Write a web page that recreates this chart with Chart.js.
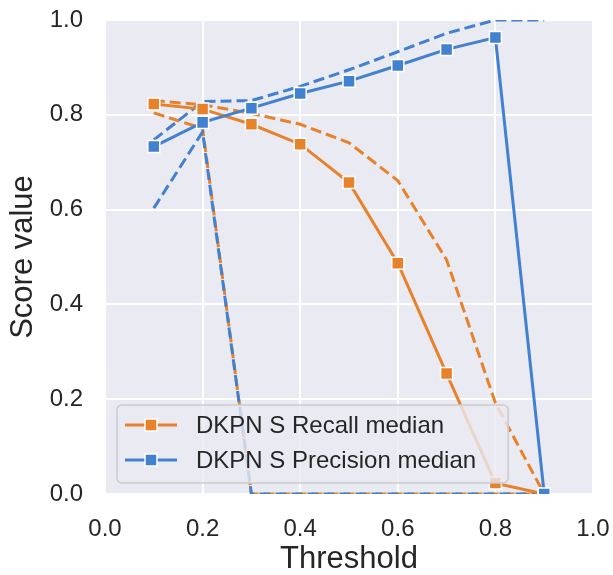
<!DOCTYPE html>
<html>
<head>
<meta charset="utf-8">
<script src="https://cdn.jsdelivr.net/npm/chart.js@4.4.1/dist/chart.umd.min.js"></script>
<style>
  html, body { margin: 0; padding: 0; background: #ffffff; }
  #wrap { width: 613px; height: 575px; }
</style>
</head>
<body>
<div id="wrap"><canvas id="myChart" width="613" height="575"></canvas></div>
<script>
// thresholds on the x axis
const thresholds = [0.1, 0.2, 0.3, 0.4, 0.5, 0.6, 0.7, 0.8, 0.9];
// recall: median and the dashed band around it
const recallMedian = [0.823, 0.812, 0.780, 0.738, 0.657, 0.487, 0.254, 0.023, 0.0];
const recallUpper  = [0.830, 0.821, 0.803, 0.780, 0.741, 0.661, 0.494, 0.192, 0.0];
const recallLower  = [0.804, 0.771, 0.0, 0.0, 0.0, 0.0, 0.0, 0.0, 0.0];
// precision: median and the dashed band around it
const precisionMedian = [0.733, 0.784, 0.814, 0.845, 0.871, 0.904, 0.938, 0.963, 0.0];
const precisionUpper  = [0.747, 0.828, 0.830, 0.860, 0.895, 0.933, 0.972, 1.0, 1.0];
const precisionLower  = [0.603, 0.764, 0.0, 0.0, 0.0, 0.0, 0.0, 0.0, 0.0];
// tick labels
const xTicks = ['0.0', '0.2', '0.4', '0.6', '0.8', '1.0'];
const yTicks = ['0.0', '0.2', '0.4', '0.6', '0.8', '1.0'];

const ORANGE = '#e8822a';
const BLUE = '#4280d0';
const FONT = '"Liberation Sans", Arial, Helvetica, sans-serif';
const TEXT = '#262626';

function pts(values) {
  return thresholds.map((t, i) => ({ x: t, y: values[i] }));
}

function medianSet(label, values, color, order) {
  return {
    label: label,
    data: pts(values),
    borderColor: color,
    backgroundColor: color,
    borderWidth: 3,
    pointStyle: 'rect',
    pointRadius: 8.5,
    pointBorderColor: '#ffffff',
    pointBorderWidth: 1.5,
    pointBackgroundColor: color,
    tension: 0,
    clip: 0,
    order: order
  };
}

function bandSet(label, values, color, order) {
  return {
    label: label,
    data: pts(values),
    borderColor: color,
    borderWidth: 3,
    borderDash: [11, 5],
    pointRadius: 0,
    tension: 0,
    clip: 0,
    order: order
  };
}

// grey plot background (seaborn darkgrid look)
const plotBackground = {
  id: 'plotBackground',
  beforeDraw(chart) {
    const a = chart.chartArea;
    const ctx = chart.ctx;
    ctx.save();
    ctx.fillStyle = '#eaeaf2';
    ctx.fillRect(a.left, a.top, a.right - a.left, a.bottom - a.top);
    ctx.restore();
  }
};

// legend box drawn inside the plot, lower left
const legendItems = [
  { label: 'DKPN S Recall median', color: ORANGE },
  { label: 'DKPN S Precision median', color: BLUE }
];
const insideLegend = {
  id: 'insideLegend',
  afterDraw(chart) {
    const a = chart.chartArea;
    const ctx = chart.ctx;
    ctx.save();
    ctx.font = '24px ' + FONT;
    let maxW = 0;
    legendItems.forEach(it => { maxW = Math.max(maxW, ctx.measureText(it.label).width); });
    const left = a.left + 12;
    const h = 78;
    const top = a.bottom - 11 - h;
    const w = 79 + maxW + 32;
    ctx.beginPath();
    ctx.roundRect(left, top, w, h, 5);
    ctx.fillStyle = 'rgba(234,234,242,0.8)';
    ctx.fill();
    ctx.lineWidth = 1.5;
    ctx.strokeStyle = '#cccccc';
    ctx.stroke();
    legendItems.forEach((it, i) => {
      const cy = top + 20 + i * 35;
      ctx.beginPath();
      ctx.moveTo(left + 8, cy);
      ctx.lineTo(left + 60, cy);
      ctx.lineWidth = 3;
      ctx.strokeStyle = it.color;
      ctx.stroke();
      ctx.fillStyle = it.color;
      ctx.strokeStyle = '#ffffff';
      ctx.lineWidth = 1.5;
      ctx.fillRect(left + 28, cy - 6, 12, 12);
      ctx.strokeRect(left + 28, cy - 6, 12, 12);
      ctx.fillStyle = TEXT;
      ctx.textBaseline = 'middle';
      ctx.textAlign = 'left';
      ctx.fillText(it.label, left + 79, cy + 1);
    });
    ctx.restore();
  }
};

const ctx = document.getElementById('myChart').getContext('2d');
const chart = new Chart(ctx, {
  type: 'line',
  data: {
    datasets: [
      bandSet('recall upper', recallUpper, ORANGE, 6),
      bandSet('recall lower', recallLower, ORANGE, 5),
      bandSet('precision upper', precisionUpper, BLUE, 4),
      bandSet('precision lower', precisionLower, BLUE, 3),
      medianSet('DKPN S Recall median', recallMedian, ORANGE, 2),
      medianSet('DKPN S Precision median', precisionMedian, BLUE, 1)
    ]
  },
  options: {
    responsive: false,
    animation: false,
    layout: { padding: { top: 20, right: 20, left: 0, bottom: 0 } },
    plugins: {
      legend: { display: false },
      tooltip: { enabled: false }
    },
    scales: {
      x: {
        type: 'linear',
        min: 0,
        max: 1,
        border: { display: false },
        grid: { color: '#ffffff', lineWidth: 2, drawTicks: false },
        ticks: {
          stepSize: 0.2,
          padding: 21,
          color: TEXT,
          font: { family: FONT, size: 24 },
          maxRotation: 0,
          callback: (v, i) => xTicks[i]
        },
        title: {
          display: true,
          text: 'Threshold',
          color: TEXT,
          font: { family: FONT, size: 31 },
          padding: { top: 0, bottom: -3 }
        },
        afterFit(scale) {
          scale.height = 81;
          scale.paddingLeft = 0;
          scale.paddingRight = 0;
        }
      },
      y: {
        min: 0,
        max: 1,
        border: { display: false },
        grid: { color: '#ffffff', lineWidth: 2, drawTicks: false },
        ticks: {
          stepSize: 0.2,
          padding: 22,
          color: TEXT,
          font: { family: FONT, size: 24 },
          callback: (v, i) => yTicks[i]
        },
        title: {
          display: true,
          text: 'Score value',
          color: TEXT,
          font: { family: FONT, size: 31 },
          padding: { top: 5, bottom: 0 }
        },
        afterFit(scale) {
          scale.width = 105;
          scale.paddingTop = 0;
          scale.paddingBottom = 0;
        }
      }
    }
  },
  plugins: [plotBackground, insideLegend]
});
</script>
</body>
</html>
